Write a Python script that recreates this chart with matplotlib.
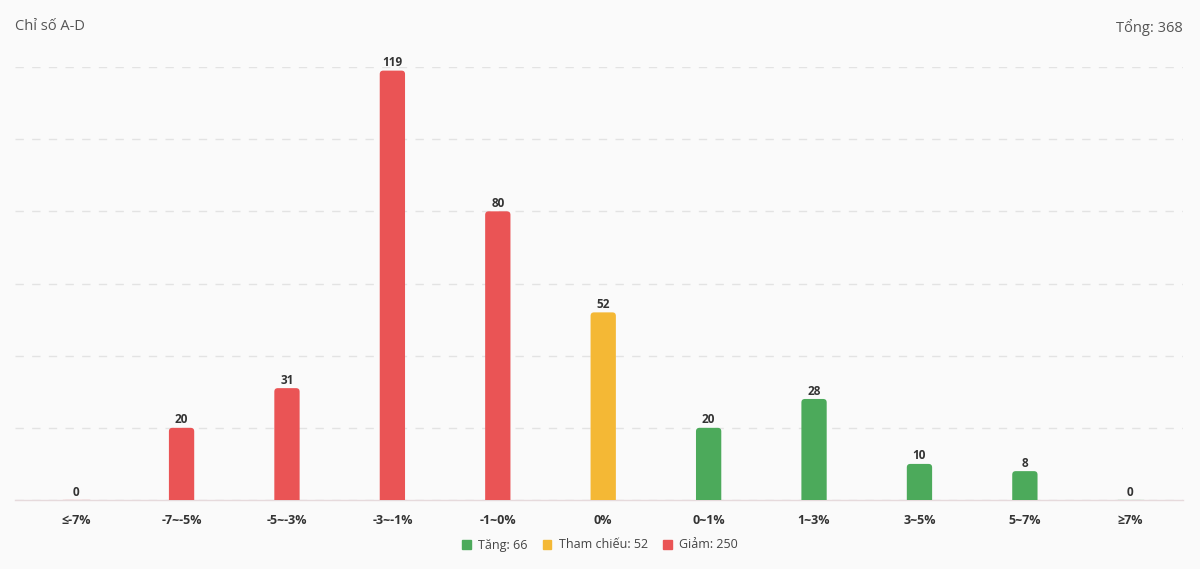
import matplotlib
matplotlib.use("Agg")
import matplotlib.pyplot as plt
from matplotlib.patches import Patch, FancyBboxPatch

plt.rcParams['font.family'] = ['Open Sans', 'Noto Sans', 'DejaVu Sans']

categories = ["≤-7%", "-7~-5%", "-5~-3%", "-3~-1%", "-1~0%", "0%", "0~1%", "1~3%", "3~5%", "5~7%", "≥7%"]
values = [0, 20, 31, 119, 80, 52, 20, 28, 10, 8, 0]
groups = ["down", "down", "down", "down", "down", "ref", "up", "up", "up", "up", "up"]
legend_labels = ["Tăng: 66", "Tham chiếu: 52", "Giảm: 250"]
title = "Chỉ số A-D"
total_label = "Tổng: 368"
yticks = [0, 20, 40, 60, 80, 100, 120]

colors = {"down": "#EA5455", "ref": "#F4B835", "up": "#4CAA5B"}
bg = "#FAFAFA"

fig = plt.figure(figsize=(12, 5.69), dpi=100, facecolor=bg)
ax = fig.add_axes([15/1200, 1 - 500/569, 1168/1200, (500-67)/569])
ax.set_facecolor(bg)

x = list(range(len(categories)))
bar_colors = [colors[g] for g in groups]
bars = ax.bar(x, values, width=0.24, color=bar_colors, zorder=3)

ax.set_xlim(-0.58, 10.5)
ax.set_ylim(0, 120)

# rounded tops: replace rectangles with rounded boxes of the same geometry
px_x = 1168 / (10.5 + 0.58)
px_y = 433 / 120
r_px = 3.5
rs = r_px / px_x
asp = (r_px / px_y) / rs
for b in bars:
    h = b.get_height()
    if h <= 0:
        continue
    b.set_visible(False)
    ext = r_px / px_y * 1.5
    fb = FancyBboxPatch((b.get_x(), -ext), b.get_width(), h + ext,
                        boxstyle=f"round,pad=0,rounding_size={rs}",
                        mutation_aspect=asp, facecolor=b.get_facecolor(),
                        edgecolor='none', zorder=3, clip_on=True)
    ax.add_patch(fb)

for xi, v, c in zip(x, values, bar_colors):
    if v == 0:
        ax.plot([xi - 0.12, xi + 0.12], [0, 0], color=c, lw=1, alpha=0.4, zorder=4)
    ax.text(xi, v + 0.4, str(v), ha='center', va='bottom', fontsize=8.5,
            fontweight='bold', color='#333333', zorder=5)

ax.set_yticks(yticks)
ax.yaxis.grid(True, linestyle=(0, (6, 6)), color='#E3E3E3', lw=1, zorder=0)
ax.tick_params(axis='y', left=False, labelleft=False)
ax.set_xticks(x)
ax.set_xticklabels(categories, fontsize=9, fontweight='bold', color='#333333')
ax.tick_params(axis='x', length=0, pad=10)
for s in ['top', 'right', 'left']:
    ax.spines[s].set_visible(False)
ax.spines['bottom'].set_color('#E6DADC')
ax.spines['bottom'].set_linewidth(1)

fig.text(15/1200, 1 - 27/569, title, fontsize=10.5, color='#555555', va='center', ha='left')
fig.text(1183/1200, 1 - 27/569, total_label, fontsize=10.5, color='#555555', va='center', ha='right')

handles = [Patch(color=colors["up"]), Patch(color=colors["ref"]), Patch(color=colors["down"])]
fig.legend(handles, legend_labels, loc='center', bbox_to_anchor=(0.5, 1 - 545/569), ncol=3,
           frameon=False, fontsize=9, handlelength=0.7, handleheight=0.7,
           handletextpad=0.6, columnspacing=1.2, labelcolor='#444444')

fig.savefig("out.png", dpi=100, facecolor=bg)
